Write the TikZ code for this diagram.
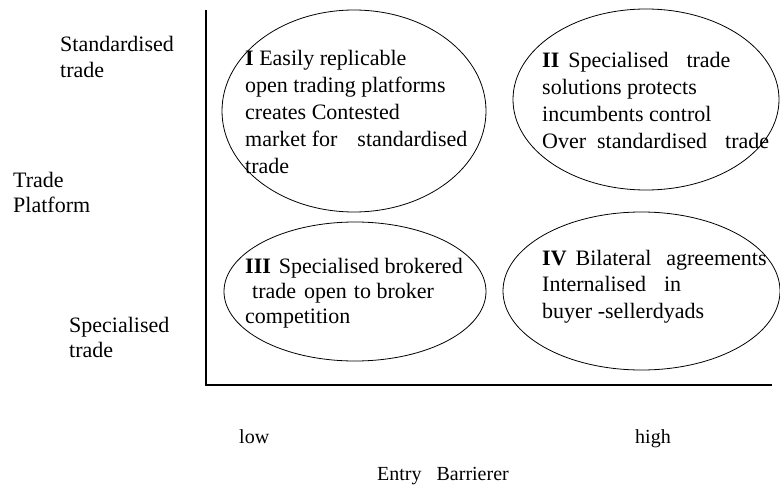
\documentclass[tikz,border=0pt]{standalone}
\usepackage{fontspec}
\setmainfont{Liberation Serif}
\usetikzlibrary{shapes.geometric}
\newcommand\blk[1]{\begin{tabular}[t]{@{}l@{}}#1\end{tabular}}
\newcommand\gap[1]{\hspace{#1pt}}
\begin{document}
\begin{tikzpicture}[x=1pt,y=-1pt,
  oval/.style={draw,ellipse,line width=0.8pt,inner sep=0pt},
  axis/.style={line width=1.2pt},
  txt/.style={anchor=base west,inner sep=0pt,font=\fontsize{22}{27}\selectfont},
  lbl/.style={anchor=base west,inner sep=0pt,font=\fontsize{22}{25.5}\selectfont},
  small/.style={anchor=base west,inner sep=0pt,font=\fontsize{20}{24}\selectfont}]
\useasboundingbox (0,0) rectangle (780,487);
\coordinate (top) at (206,10);
\coordinate (origin) at (206,385);
\coordinate (right) at (772,385);
\draw[axis] (top) -- (origin) -- (right);
\node[oval,minimum width=264pt,minimum height=202pt] (q1) at (354,111) {};
\node[oval,minimum width=266pt,minimum height=181pt] (q2) at (646,99.5) {};
\node[oval,minimum width=262pt,minimum height=139pt] (q3) at (355,291.5) {};
\node[oval,minimum width=277pt,minimum height=158pt] (q4) at (641.5,291) {};
\node[txt] (t1) at (245,66) {\blk{\textbf{I} Easily replicable\\ open trading platforms\\ creates Contested\\ market for\gap{20}standardised\\ trade}};
\node[txt] (t2) at (542,68) {\blk{\textbf{II}\gap{9}Specialised\gap{18}trade\\ solutions protects\\ incumbents control\\ Over\gap{11}standardised\gap{18}trade}};
\node[txt,font=\fontsize{22}{25}\selectfont] (t3) at (245,273) {\blk{\textbf{III}\gap{8}Specialised brokered\\ \gap{7}trade\gap{8}open\gap{7}to broker\\ competition}};
\node[txt,font=\fontsize{22}{26.5}\selectfont] (t4) at (542,265) {\blk{\textbf{IV}\gap{9}Bilateral\gap{15}agreements\\ Internalised\gap{18}in\\ buyer -sellerdyads}};
\node[lbl] (std) at (60,52) {\blk{Standardised\\ trade}};
\node[lbl] (tp) at (13,187) {\blk{Trade\\ Platform}};
\node[lbl] (spc) at (69,332) {\blk{Specialised\\ trade}};
\node[small] (low) at (239,443) {low};
\node[small] (high) at (635,443) {high};
\node[small] (eb) at (377,480) {Entry\gap{15}Barrierer};
\end{tikzpicture}
\end{document}
